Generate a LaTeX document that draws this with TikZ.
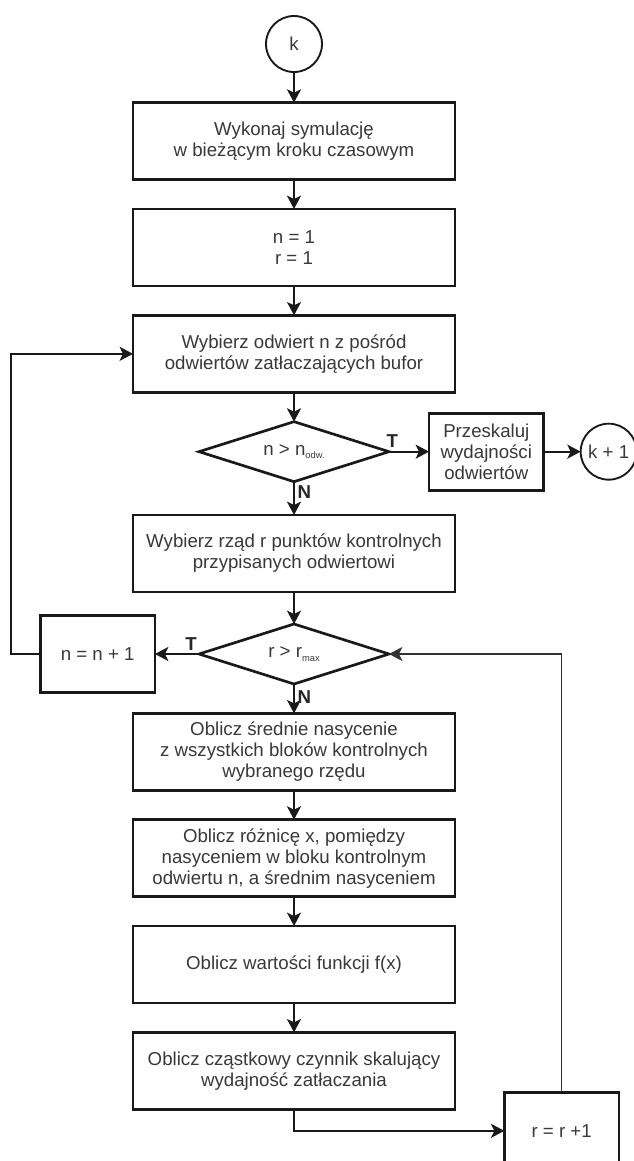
\documentclass[tikz,border=0pt]{standalone}
\usepackage{fontspec}
\setmainfont{Liberation Sans}
\usetikzlibrary{
  shapes.geometric, % Shape "diamond"
  arrows.meta,
  positioning,      % Function "of" (e.g. [below=of x])
}
\newcommand{\subtxt}[1]{\raisebox{-2.5pt}{\fontsize{7pt}{8pt}\selectfont #1}}
\def\myndist{22pt}
\def\myboxw{241.5pt}
\def\myboxh{57.75pt}
\tikzset{
  font=\fontsize{14pt}{15.75pt}\selectfont,
  >={Stealth[length=10pt,width=10.5pt,inset=2.5pt]},
  my box/.style={
    draw=black!90,
    text=black!78,
    line width=2pt,
    minimum width=\myboxw,
    minimum height=\myboxh,
    inner sep=1mm,
    outer sep=0pt,
    align=center,
    rectangle
  },
  my small box/.style={
    my box,
    minimum width=86pt
  },
  my decision/.style={
    draw=black!90,
    text=black!78,
    diamond,
    aspect=3,
    line width=2pt,
    minimum width=142.5pt,
    minimum height=45pt,
    inner sep=0pt,
    outer sep=0pt
  },
  my connector/.style={
    draw=black!90,
    text=black!78,
    circle,
    line width=1.4pt,
    minimum size=42pt,
    inner sep=0pt,
    outer sep=0pt
  },
  my label/.style={
    font=\fontsize{14pt}{15pt}\selectfont\bfseries,
    text=black!85,
    inner sep=2pt
  },
  flowchart/.style={
    node distance=\myndist,
    every edge/.style={draw=black!90,line width=1.6pt},
    thin loop/.style={draw=black!80,line width=1.2pt}
  }
}

\begin{document}
\begin{tikzpicture}[flowchart]
\useasboundingbox (0,0) rectangle (474.75pt,-870.75pt);
\node[my connector]   (k)     at (220.5pt,-33pt)  {k};
\node[my box]         (sim)   [below=23pt of k]   {Wykonaj symulację\\w bieżącym kroku czasowym};
\node[my box]         (init)  [below=of sim]      {n = 1\\r = 1};
\node[my box]         (well)  [below=of init]     {Wybierz odwiert n z pośród\\odwiertów zatłaczających bufor};
\node[my decision]    (nchk)  [below=of well]     {n > n\subtxt{odw.}};
\node[my box]         (row)   [below=25pt of nchk]{Wybierz rząd r punktów kontrolnych\\przypisanych odwiertowi};
\node[my decision]    (rchk)  [below=24pt of row] {r > r\subtxt{max}};
\node[my box]         (avg)   [below=of rchk]     {Oblicz średnie nasycenie\\z wszystkich bloków kontrolnych\\wybranego rzędu};
\node[my box]         (diff)  [below=of avg]      {Oblicz różnicę x, pomiędzy\\nasyceniem w bloku kontrolnym\\odwiertu n, a średnim nasyceniem};
\node[my box]         (fx)    [below=of diff]     {Oblicz wartości funkcji f(x)};
\node[my box]         (fac)   [below=of fx]       {Oblicz cząstkowy czynnik skalujący\\wydajność zatłaczania};
\node[my small box]   (resc)  [right=30pt of nchk]{Przeskaluj\\wydajności\\odwiertów};
\node[my connector]   (knext) [right=27.75pt of resc] {k + 1};
\node[my small box]   (ninc)  [left=33pt of rchk] {n = n + 1};
\node[my small box,yshift=-45pt] (rinc) [right=37pt of fac] {r = r +1};
\path[->] (k)    edge                                  (sim)
          (sim)  edge                                  (init)
          (init) edge                                  (well)
          (well) edge                                  (nchk)
          (nchk) edge node[my label,above,pos=0.08]{T} (resc)
          (resc) edge                                  (knext)
          (nchk) edge node[my label,right,pos=0.3] {N} (row)
          (row)  edge                                  (rchk)
          (rchk) edge node[my label,above,pos=0.18]{T} (ninc)
          (rchk) edge node[my label,right,pos=0.45]{N} (avg)
          (avg)  edge                                  (diff)
          (diff) edge                                  (fx)
          (fx)   edge                                  (fac);
% loops back
\draw[->,draw=black!90,line width=1.6pt] (ninc.west) -- ++(-21.75pt,0) |- (well.west);
\draw[->,draw=black!90,line width=1.6pt] (fac.south) |- (rinc.west);
\draw[->,thin loop] (rinc.north) |- (rchk.east);
\end{tikzpicture}
\end{document}
